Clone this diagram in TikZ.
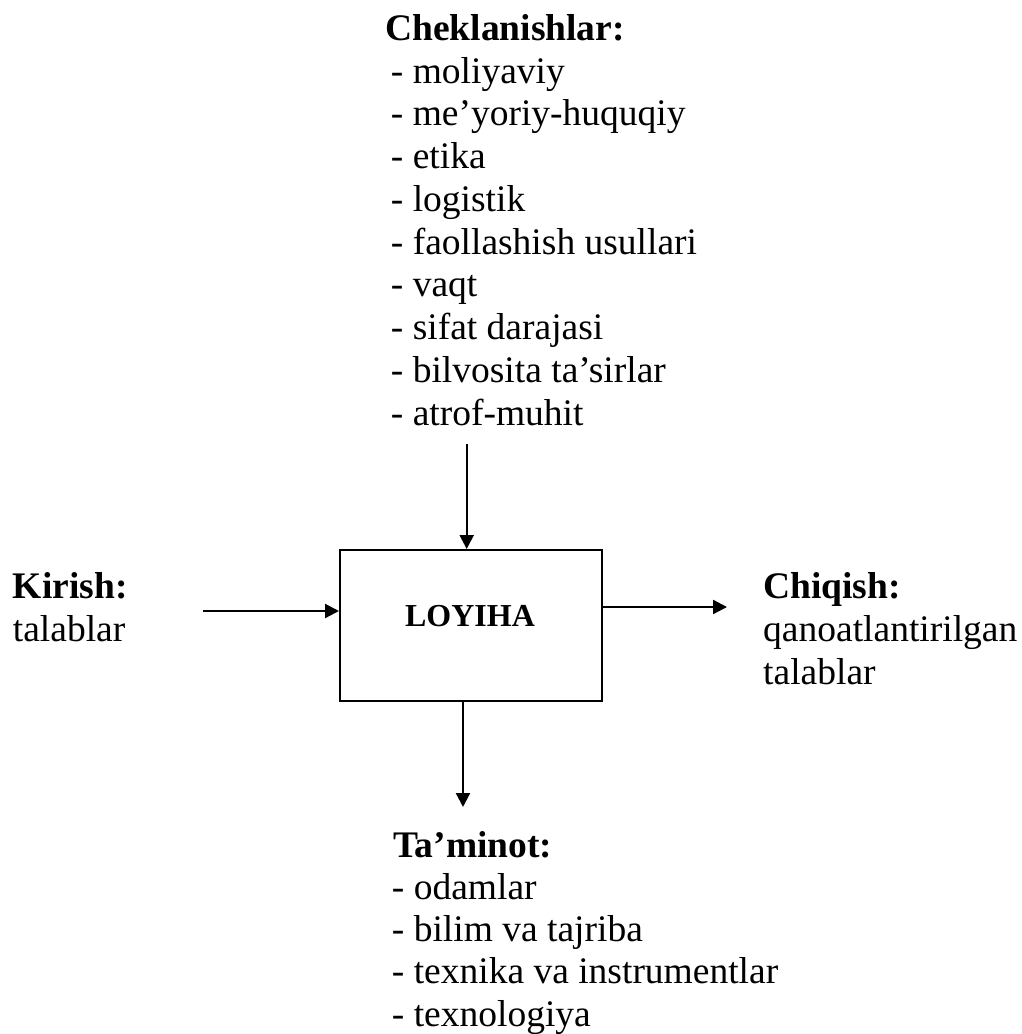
\documentclass[tikz,border=0pt]{standalone}
\usepackage{fontspec}
\setmainfont{Liberation Serif}
\usetikzlibrary{arrows.meta}
\begin{document}
\begin{tikzpicture}[x=1pt,y=-1pt,
  txt/.style={anchor=base west,inner sep=0pt,font=\fontsize{37.5}{43}\selectfont},
  head/.style={txt,font=\fontsize{37.5}{43}\selectfont\bfseries},
  arr/.style={line width=2.2pt,-{Triangle[length=14pt,width=14pt]}},
  proc/.style={draw,line width=2pt,minimum width=262pt,minimum height=151pt,inner sep=0pt}]
\useasboundingbox (0,0) rectangle (1022,1034);
% central block
\node[proc] (box) at (471,625.5) {};
\node[anchor=base,inner sep=0pt,font=\fontsize{32}{36}\selectfont\bfseries] (boxlbl) at (470,626.7) {LOYIHA};
% constraints (top)
\node[head] (ctitle) at (385,40) {Cheklanishlar:};
\foreach \t [count=\i from 0] in {moliyaviy,me’yoriy-huquqiy,etika,logistik,faollashish usullari,vaqt,sifat darajasi,bilvosita ta’sirlar,atrof-muhit}
  \node[txt] (c\i) at (390.7,83+42.75*\i) {- \t};
% input (left)
\node[head] (ititle) at (12.7,598) {Kirish:};
\node[txt] (i1) at (12.7,641) {talablar};
% output (right)
\node[head] (otitle) at (763,598) {Chiqish:};
\node[txt] (o1) at (763,641) {qanoatlantirilgan};
\node[txt] (o2) at (763,684) {talablar};
% resources (bottom)
\node[head] (rtitle) at (393,857) {Ta’minot:};
\foreach \t [count=\i from 0] in {odamlar,bilim va tajriba,texnika va instrumentlar,texnologiya}
  \node[txt] (r\i) at (391.7,899+42.4*\i) {- \t};
% connectors
\coordinate (ctop) at (466.7,444);
\coordinate (cin) at (203,611);
\coordinate (cout) at (727,607);
\coordinate (cbot) at (463,807);
\draw[arr] (ctop) -- (ctop |- box.north);
\draw[arr] (cin) -- (cin -| box.west);
\draw[arr] (cout -| box.east) -- (cout);
\draw[arr] (cbot |- box.south) -- (cbot);
\end{tikzpicture}
\end{document}
